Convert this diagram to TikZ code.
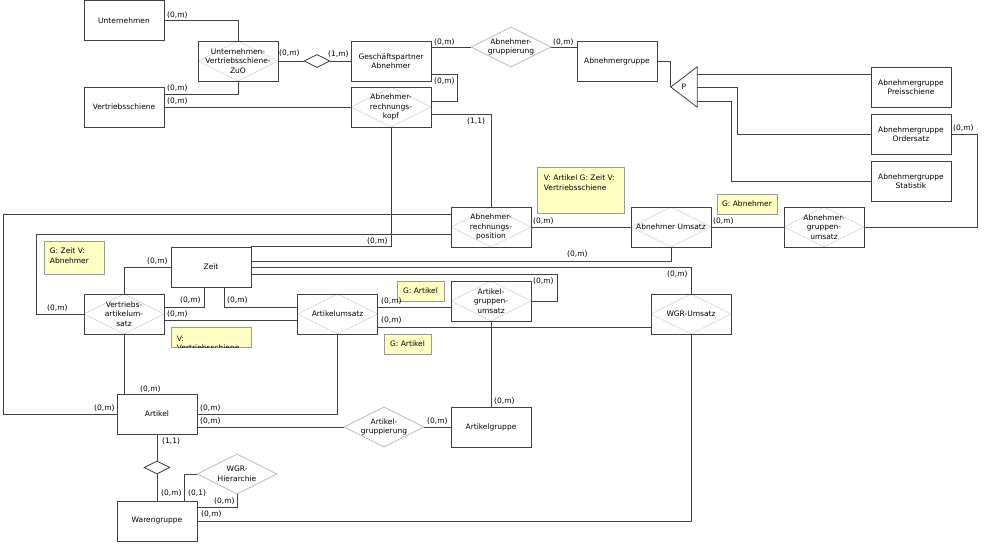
\documentclass[tikz,border=0pt]{standalone}
\usepackage{fontspec}
\setmainfont{DejaVu Sans}
\usetikzlibrary{shapes.geometric}
\definecolor{notefill}{RGB}{255,255,196}
\tikzset{
  basic/.style   = {font=\fontsize{7.5}{9.5}\selectfont, inner sep=0pt, align=center},
  entity/.style  = {basic, rectangle, draw=black!75, line width=0.8pt, fill=white,
                    minimum width=80pt, minimum height=40pt},
  relbox/.style  = {entity, path picture={\draw[gray!35, line width=0.6pt]
                    (path picture bounding box.north) -- (path picture bounding box.east) --
                    (path picture bounding box.south) -- (path picture bounding box.west) -- cycle;}},
  reldia/.style  = {basic, diamond, aspect=2, draw=gray!55, line width=0.8pt, inner sep=-2pt,
                    minimum width=80pt, minimum height=40pt},
  joint/.style   = {diamond, aspect=2, draw=black!80, line width=0.8pt, inner sep=0pt,
                    minimum width=26pt, minimum height=13pt},
  spec/.style    = {basic, minimum width=26pt, minimum height=40pt},
  note/.style    = {basic, draw=gray!80, line width=0.6pt, fill=notefill},
  notetext/.style = {basic, align=left, anchor=north west},
  card/.style    = {basic, anchor=west},
  link/.style    = {draw=black!75, line width=0.8pt}
}
\begin{document}
\begin{tikzpicture}[x=1pt, y=-1pt]
\useasboundingbox (0,0) rectangle (987,545);

% customer side, top rows
\node[entity] (un) at (124,20.5) {Unternehmen};
\node[relbox] (zuo) at (238,61) {Unternehmen-\\Vertriebsschiene-\\ZuO};
\node[entity] (vs) at (124,107) {Vertriebsschiene};
\node[joint] (sd1) at (317,61) {};
\node[entity] (gp) at (391,61) {Geschäftspartner\\Abnehmer};
\node[reldia] (agr) at (511,47) {Abnehmer-\\gruppierung};
\node[entity] (ag) at (617,61) {Abnehmergruppe};
\node[spec] (tri) at (684,87) {P};
\node[entity] (ps) at (911,87) {Abnehmergruppe\\Preisschiene};
\node[entity] (os) at (911,134) {Abnehmergruppe\\Ordersatz};
\node[entity] (st) at (911,181) {Abnehmergruppe\\Statistik};
\node[relbox] (rk) at (391,107) {Abnehmer-\\rechnungs-\\kopf};

% facts in the middle
\node[relbox] (rp) at (491,227) {Abnehmer-\\rechnungs-\\position};
\node[relbox] (au) at (671,227) {Abnehmer Umsatz};
\node[relbox] (agu) at (824,227) {Abnehmer-\\gruppen-\\umsatz};
\node[entity] (zeit) at (211,267) {Zeit};
\node[relbox] (vas) at (124,314) {Vertriebs-\\artikelum-\\satz};
\node[relbox] (aus) at (337.5,314) {Artikelumsatz};
\node[relbox] (agru) at (491,301) {Artikel-\\gruppen-\\umsatz};
\node[relbox] (wgru) at (691,314) {WGR-Umsatz};

% article side, bottom rows
\node[entity] (art) at (157,414) {Artikel};
\node[reldia] (argr) at (384,427) {Artikel-\\gruppierung};
\node[entity] (ag2) at (491,427) {Artikelgruppe};
\node[joint] (sd2) at (157,467.5) {};
\node[entity] (wg) at (157,521) {Warengruppe};
\node[reldia] (wgrh) at (237,474) {WGR-\\Hierarchie};

% yellow notes
\node[note, minimum width=87pt, minimum height=46pt] (n1) at (580.5,190) {};
\node[notetext] (n1t) at ([xshift=7pt,yshift=-8pt]n1.north west) {V: Artikel G: Zeit V:\\Vertriebsschiene};
\node[note, minimum width=60pt, minimum height=20pt] (n2) at (747,204) {G: Abnehmer};
\node[note, minimum width=60pt, minimum height=33pt] (n3) at (74,257.5) {};
\node[notetext] (n3t) at ([xshift=6pt,yshift=-7pt]n3.north west) {G: Zeit V:\\Abnehmer};
\node[note, minimum width=47pt, minimum height=20pt] (n4) at (420.5,291) {G: Artikel};
\node[note, minimum width=80pt, minimum height=20pt] (n5) at (211,337) {};
\begin{scope}
  \clip (n5.north west) rectangle (n5.south east);
  \node[notetext] (n5t) at ([xshift=6pt,yshift=-9pt]n5.north west) {V:\\Vertriebsschiene};
\end{scope}
\node[note, minimum width=47pt, minimum height=20pt] (n6) at (407.5,344) {G: Artikel};

% specialisation triangle
\draw[link] (tri.west) -- (tri.north east) -- (tri.south east) -- cycle;

% connectors, top
\draw[link] (un.east) -| (zuo.north);
\draw[link] (zuo.south) |- ([yshift=13pt]vs.east);
\draw[link] (vs.east) -- (rk.west);
\draw[link] (zuo.east) -- (sd1.west);
\draw[link] (sd1.east) -- (gp.west);
\draw[link] ([yshift=14pt]gp.east) -- (agr.west);
\draw[link] (agr.east) -- (agr.east -| ag.west);
\draw[link] ([yshift=-13pt]gp.east) -- ++(26,0) |- ([yshift=6pt]rk.east);
\draw[link] ([yshift=-7pt]rk.east) -| (rp.north);
\draw[link] (rk.south) |- (zeit.north east);
\draw[link] (ag.east) -| (tri.west);
\draw[link] ([yshift=13pt]tri.east) -- ([yshift=13pt]tri.east -| ps.west);
\draw[link] (tri.east) -- ++(40,0) |- (os.west);
\draw[link] ([yshift=-14pt]tri.east) -- ++(34,0) |- (st.west);

% connectors, middle
\draw[link] ([yshift=13pt]rp.west) -- ++(-447,0) |- (art.west);
\draw[link] ([yshift=-7pt]rp.west) -- ++(-414,0) |- (vas.west);
\draw[link] (rp.east) -- (au.west);
\draw[link] (au.east) -- (agu.west);
\draw[link] (agu.east) -- ++(113,0) |- (os.east);
\draw[link] (au.south) |- ([yshift=6pt]zeit.east);
\draw[link] (wgru.north) |- (zeit.east);
\draw[link] ([yshift=-7pt]zeit.east) -- ++(306,0) |- (agru.east);
\draw[link] (zeit.west) -| (vas.north);
\draw[link] ([xshift=-7pt]zeit.south) |- ([yshift=7pt]vas.east);
\draw[link] ([xshift=13pt]zeit.south) |- ([yshift=7pt]aus.west);
\draw[link] ([yshift=-6pt]vas.east) -- ([yshift=-6pt]vas.east -| aus.west);
\draw[link] ([yshift=7pt]aus.east) -- ([yshift=7pt]aus.east -| agru.west);
\draw[link] ([yshift=-13pt]aus.east) -- ([yshift=-13pt]aus.east -| wgru.west);
\draw[link] (agru.south) -- (ag2.north);

% connectors, bottom
\draw[link] (vas.south) -- (vas.south |- art.north);
\draw[link] (art.east) -| (aus.south);
\draw[link] ([yshift=-13pt]art.east) -- (argr.west);
\draw[link] (argr.east) -- (ag2.west);
\draw[link] (art.south) -- (sd2.north);
\draw[link] (sd2.south) -- (wg.north);
\draw[link] ([xshift=27pt]wg.north) |- (wgrh.west);
\draw[link] (wgrh.south) |- ([yshift=14pt]wg.east);
\draw[link] (wg.east) -| (wgru.south);

% cardinalities
\node[card] (c1) at (167,15.5) {(0,m)};
\node[card] (c2) at (167,88) {(0,m)};
\node[card] (c3) at (167,101) {(0,m)};
\node[card] (c4) at (279,53) {(0,m)};
\node[card] (c5) at (328,53.7) {(1,m)};
\node[card] (c6) at (434,41.7) {(0,m)};
\node[card] (c7) at (553,41.7) {(0,m)};
\node[card] (c8) at (434,81) {(0,m)};
\node[card] (c9) at (467,121) {(1,1)};
\node[card] (c10) at (367,241.5) {(0,m)};
\node[card] (c11) at (533,221) {(0,m)};
\node[card] (c12) at (713,221) {(0,m)};
\node[card] (c13) at (953,128) {(0,m)};
\node[card] (c14) at (567,254.5) {(0,m)};
\node[card] (c15) at (667,274.5) {(0,m)};
\node[card] (c16) at (533,281) {(0,m)};
\node[card] (c17) at (147,261.5) {(0,m)};
\node[card] (c18) at (47,308.5) {(0,m)};
\node[card] (c19) at (180,300.5) {(0,m)};
\node[card] (c20) at (227,300.5) {(0,m)};
\node[card] (c21) at (167,314) {(0,m)};
\node[card] (c22) at (381,301) {(0,m)};
\node[card] (c23) at (381,320.5) {(0,m)};
\node[card] (c24) at (494,401) {(0,m)};
\node[card] (c25) at (427,421) {(0,m)};
\node[card] (c26) at (140,388.7) {(0,m)};
\node[card] (c27) at (94,408) {(0,m)};
\node[card] (c28) at (200,408) {(0,m)};
\node[card] (c29) at (200,421.5) {(0,m)};
\node[card] (c30) at (162,441.5) {(1,1)};
\node[card] (c31) at (161,493.5) {(0,m)};
\node[card] (c32) at (188,493.5) {(0,1)};
\node[card] (c33) at (214,501.5) {(0,m)};
\node[card] (c34) at (201,514.5) {(0,m)};
\end{tikzpicture}
\end{document}
